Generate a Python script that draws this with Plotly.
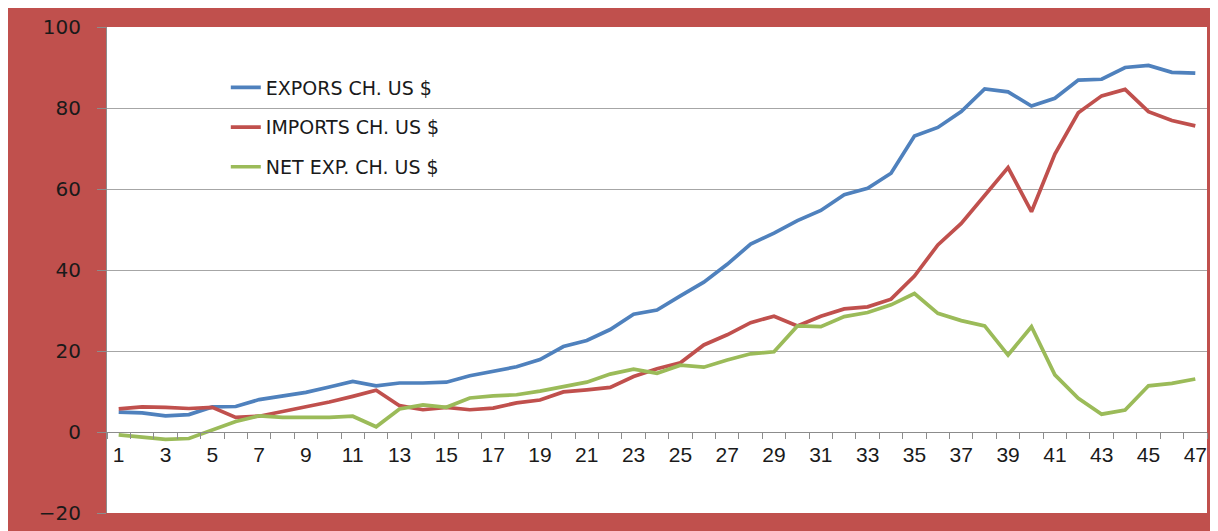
import plotly.graph_objects as go

periods = list(range(1, 48))
tick_labels = [str(i) for i in range(1, 48, 2)]

exports = [4.9, 4.7, 4.0, 4.3, 6.2, 6.3, 8.0, 8.8, 9.8, 11.1,
           12.5, 11.4, 12.1, 12.1, 12.3, 13.9, 15.0, 16.1, 17.9, 21.1,
           22.6, 25.3, 29.1, 30.1, 33.6, 37.0, 41.4, 46.4, 49.1, 52.2,
           54.7, 58.6, 60.2, 63.9, 73.1, 75.2, 79.1, 84.7, 84.0, 80.5,
           82.4, 86.9, 87.1, 90.0, 90.5, 88.8, 88.6]
imports = [5.7, 6.2, 6.1, 5.8, 6.1, 3.6, 3.9, 5.1, 6.1, 7.4,
           8.8, 10.3, 6.5, 5.5, 6.1, 5.5, 5.9, 7.2, 7.9, 9.9,
           10.4, 11.0, 13.7, 15.6, 17.1, 21.5, 24.0, 27.0, 28.6, 26.2,
           28.6, 30.4, 30.9, 32.8, 38.5, 46.2, 51.5, 58.4, 65.3, 54.4,
           68.6, 78.8, 83.0, 84.6, 79.1, 76.9, 75.6]
net_exports = [-0.7, -1.2, -1.8, -1.6, 0.4, 2.6, 4.0, 3.6, 3.6, 3.6,
               3.9, 1.3, 5.7, 6.7, 6.1, 8.4, 8.9, 9.2, 10.1, 11.2,
               12.3, 14.3, 15.5, 14.5, 16.5, 16.0, 17.8, 19.3, 19.8, 26.2,
               26.0, 28.5, 29.5, 31.4, 34.2, 29.3, 27.5, 26.2, 19.0, 26.0,
               14.1, 8.3, 4.4, 5.4, 11.4, 12.0, 13.1]

series = [
    ("EXPORS CH. US $", exports, "#4F81BD"),
    ("IMPORTS CH. US $", imports, "#C0504D"),
    ("NET EXP. CH. US $", net_exports, "#9BBB59"),
]

fig = go.Figure()
for i, (name, vals, col) in enumerate(series):
    fig.add_trace(go.Scatter(
        x=periods, y=vals, name=name, mode="lines",
        line=dict(color=col, width=3.7),
        legendgroup=f"g{i}",
    ))

fig.update_layout(
    width=1210, height=523,
    margin=dict(l=99, r=11, t=19, b=18),
    paper_bgcolor="#C0504D",
    plot_bgcolor="white",
    showlegend=True,
    legend=dict(x=0.108, y=0.9146, xanchor="left", yanchor="top",
                bgcolor="rgba(0,0,0,0)", tracegroupgap=12,
                font=dict(family="DejaVu Sans, Open Sans, sans-serif", size=19, color="#1a1a1a")),
    xaxis=dict(
        range=[0.5, 47.5],
        automargin=False,
        tickmode="array",
        tickvals=list(range(1, 48, 2)),
        ticktext=tick_labels,
        ticks="",
        showgrid=False,
        zeroline=False,
        showline=True, linecolor="#8C8C8C", linewidth=1,
        anchor="free", position=1/6,
        ticklabelstandoff=4,
        tickfont=dict(family="Liberation Sans Narrow, Liberation Sans, sans-serif", size=21, color="#1a1a1a"),
        minor=dict(tickmode="array", tickvals=[v + 0.5 for v in range(0, 48)],
                   ticks="outside", ticklen=6, tickcolor="#8C8C8C", showgrid=False),
    ),
    yaxis=dict(
        range=[-20, 100],
        automargin=False,
        tickmode="array",
        tickvals=[-20, 0, 20, 40, 60, 80, 100],
        showgrid=True, gridcolor="#A6A6A6", gridwidth=1,
        zeroline=False,
        showline=True, linecolor="#8C8C8C", linewidth=1,
        ticks="outside", ticklen=9, tickcolor="#8C8C8C",
        ticklabelstandoff=12,
        tickfont=dict(family="DejaVu Sans, Verdana, sans-serif", size=20, color="#1a1a1a"),
    ),
)

fig.write_html("out.html")
